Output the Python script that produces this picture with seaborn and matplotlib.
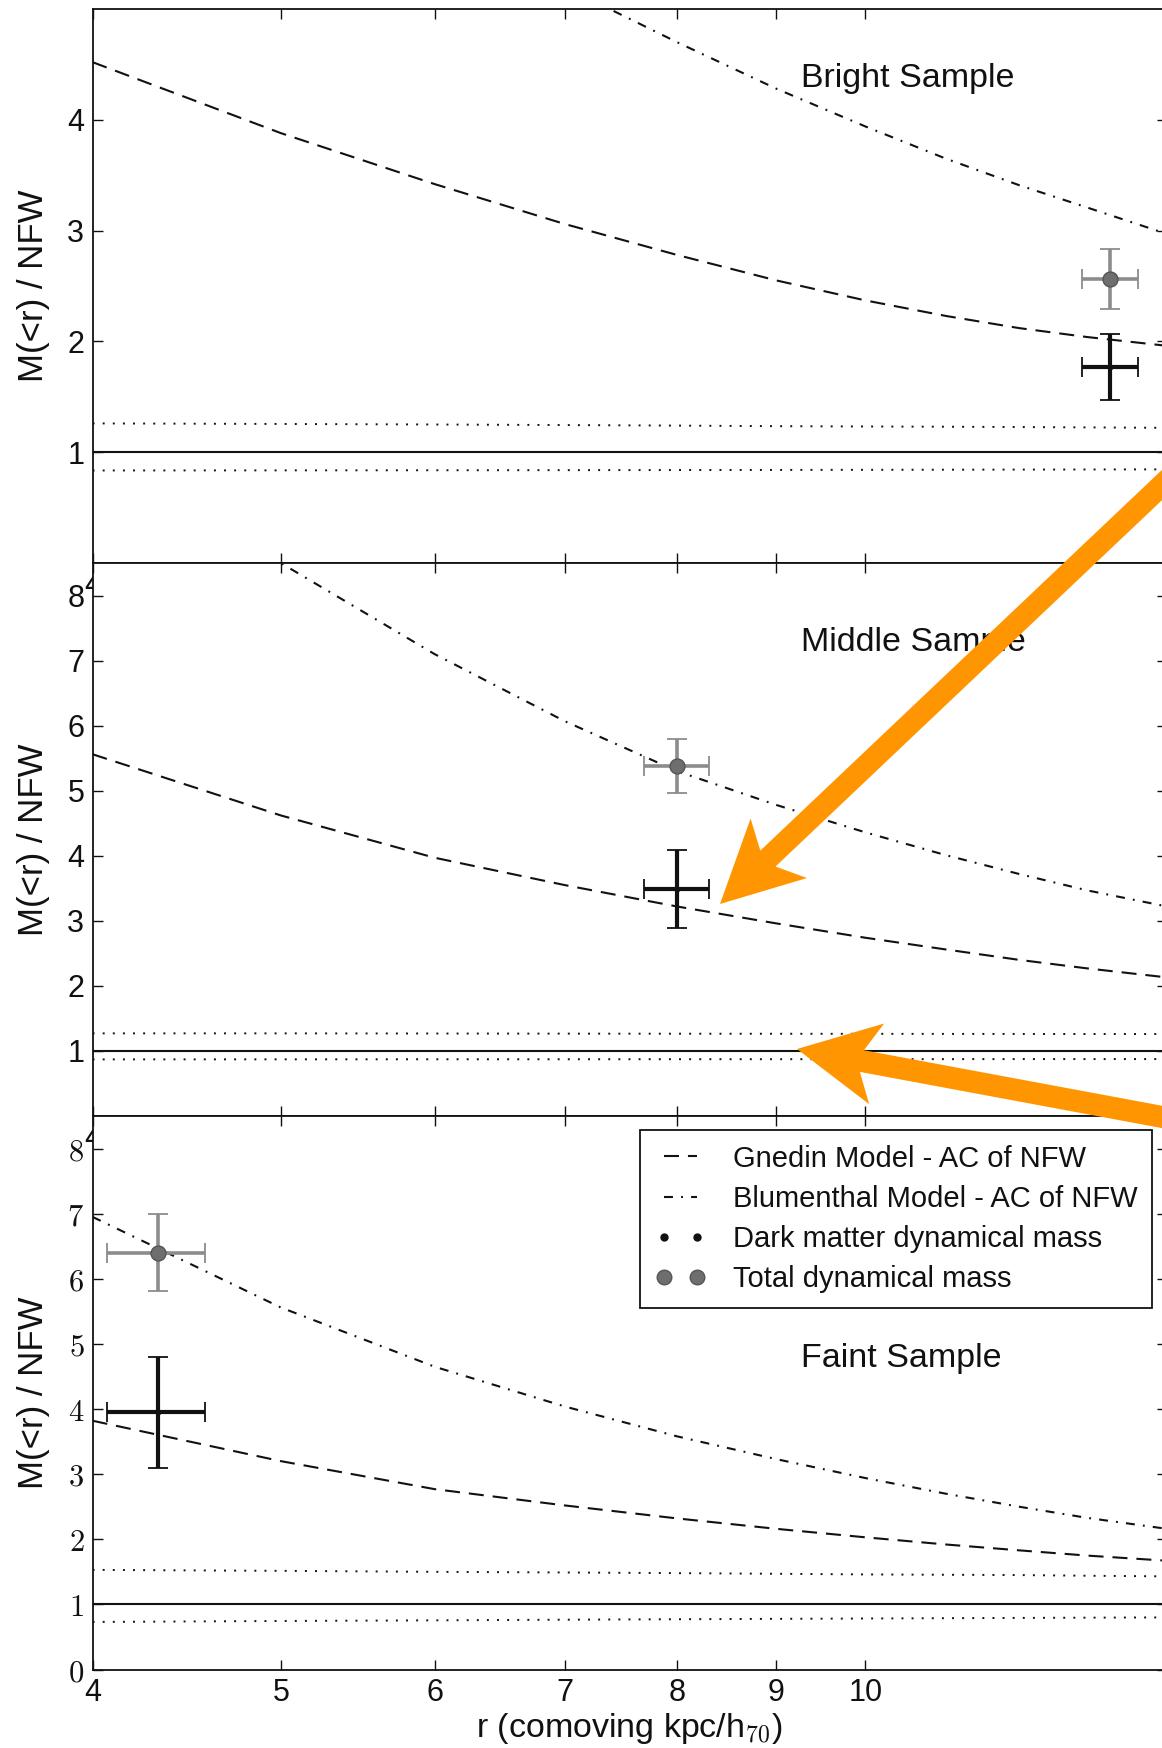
import numpy as np
import matplotlib
matplotlib.use("Agg")
import matplotlib.pyplot as plt
import seaborn as sns
from matplotlib.lines import Line2D
from matplotlib.patches import Polygon
from matplotlib.ticker import FixedLocator, FixedFormatter, NullLocator

# ---------------------------------------------------------------------------
# Data: M(<r)/NFW against comoving radius (kpc/h70)
# ---------------------------------------------------------------------------
r_grid = [4.0, 5.0, 6.0, 7.0, 8.0, 9.0, 10.0, 11.0, 12.0, 13.0, 14.3]

# Bright sample
bright_gnedin = [4.52, 3.88, 3.42, 3.06, 2.78, 2.55, 2.37, 2.23, 2.12, 2.04, 1.96]
bright_blumenthal = [8.10, 6.80, 5.90, 5.20, 4.70, 4.28, 3.94, 3.65, 3.41, 3.21, 2.97]
bright_nfw_hi = [1.26, 1.255, 1.25, 1.245, 1.24, 1.235, 1.232, 1.23, 1.227, 1.224, 1.22]
bright_nfw_lo = [0.835, 0.836, 0.837, 0.838, 0.839, 0.840, 0.841, 0.842, 0.843, 0.844, 0.845]
bright_r, bright_rerr = 13.37, 0.44
bright_total, bright_total_err = 2.56, 0.27
bright_dm, bright_dm_err = 1.77, 0.30

# Middle sample
middle_gnedin = [5.56, 4.62, 3.97, 3.55, 3.22, 2.96, 2.74, 2.56, 2.40, 2.27, 2.13]
middle_blumenthal = [10.6, 8.50, 7.10, 6.07, 5.30, 4.78, 4.36, 4.01, 3.72, 3.47, 3.22]
middle_nfw_hi = [1.27, 1.27, 1.268, 1.266, 1.265, 1.264, 1.263, 1.262, 1.261, 1.26, 1.26]
middle_nfw_lo = [0.870, 0.871, 0.872, 0.872, 0.873, 0.873, 0.874, 0.874, 0.875, 0.875, 0.875]
middle_r, middle_rerr = 8.0, 0.31
middle_total, middle_total_err = 5.38, 0.42
middle_dm, middle_dm_err = 3.49, 0.60

# Faint sample
faint_gnedin = [3.82, 3.20, 2.77, 2.52, 2.32, 2.16, 2.03, 1.92, 1.83, 1.75, 1.67]
faint_blumenthal = [6.95, 5.56, 4.65, 4.04, 3.58, 3.23, 2.94, 2.70, 2.50, 2.33, 2.16]
faint_nfw_hi = [1.53, 1.515, 1.50, 1.49, 1.48, 1.47, 1.46, 1.455, 1.45, 1.44, 1.43]
faint_nfw_lo = [0.73, 0.745, 0.755, 0.765, 0.772, 0.778, 0.783, 0.788, 0.792, 0.796, 0.80]
faint_r, faint_rerr = 4.32, 0.25
faint_total, faint_total_err = 6.40, 0.59
faint_dm, faint_dm_err = 3.95, 0.85

x_ticks = [4, 5, 6, 7, 8, 9, 10]
x_ticklabels = ["4", "5", "6", "7", "8", "9", "10"]
# upper panels: only the first label pokes out from under the panel below
x_ticklabels_hidden = ["4", "", "", "", "", "", ""]

legend_labels = ["Gnedin Model - AC of NFW", "Blumenthal Model - AC of NFW",
                 "Dark matter dynamical mass", "Total dynamical mass"]

# ---------------------------------------------------------------------------
# Style
# ---------------------------------------------------------------------------
sns.set_theme(style="ticks")
plt.rcParams.update({
    "font.family": ["Liberation Sans", "DejaVu Sans"],
    "mathtext.fontset": "cm",
    "axes.edgecolor": "#111111",
    "axes.labelcolor": "#111111",
    "text.color": "#111111",
    "xtick.color": "#111111",
    "ytick.color": "#111111",
    "axes.linewidth": 1.3,
    "xtick.direction": "in",
    "ytick.direction": "in",
    "xtick.major.size": 7.2,
    "ytick.major.size": 7.2,
    "xtick.major.width": 1.0,
    "ytick.major.width": 1.0,
    "xtick.minor.size": 0,
    "ytick.minor.size": 0,
})

W, H = 1162, 1748
DPI = 100
fig = plt.figure(figsize=(W / DPI, H / DPI), dpi=DPI, facecolor="white")

LS_GNEDIN = (0, (7.2, 4.3))
LS_BLUM = (0, (4.3, 3.9, 0.9, 3.9))
LS_DOT = (0, (1.0, 4.2))
GREY_FACE = "#6e6e6e"
GREY_EDGE = "#555555"
GREY_BAR = "#8c8c8c"

X_MIN, X_MAX = 4.0, 14.3
left = 92.6 / W
width = (1167.0 - 92.6) / W
panel_edges = [9.0, 563.0, 1116.0, 1669.5]   # top edges, pixels from top


def panel_axes(i):
    top, bot = panel_edges[i], panel_edges[i + 1]
    return fig.add_axes([left, 1 - bot / H, width, (bot - top) / H])


def draw_panel(ax, gnedin, blum, nfw_hi, nfw_lo, r_pt, r_err, tot, tot_err,
               dm, dm_err, ymax, yticks, yticklabels, xlabels, title, title_y):
    ax.set_facecolor("white")
    ax.set_xscale("log")

    ax.axhline(1.0, color="#111111", lw=1.5, zorder=2)
    for vals in (nfw_hi, nfw_lo):
        sns.lineplot(x=r_grid, y=vals, ax=ax, color="#111111", lw=1.4,
                     linestyle=LS_DOT, errorbar=None, sort=False, zorder=2)
    sns.lineplot(x=r_grid, y=gnedin, ax=ax, color="#111111", lw=1.5,
                 linestyle=LS_GNEDIN, errorbar=None, sort=False, zorder=3)
    sns.lineplot(x=r_grid, y=blum, ax=ax, color="#111111", lw=1.5,
                 linestyle=LS_BLUM, errorbar=None, sort=False, zorder=3)

    # total dynamical mass (grey) and dark matter dynamical mass (black)
    ax.errorbar([r_pt], [tot], xerr=[r_err], yerr=[tot_err], fmt="none",
                ecolor=GREY_BAR, elinewidth=2.6, capsize=7.5, capthick=1.3,
                zorder=4)
    sns.scatterplot(x=[r_pt], y=[tot], ax=ax, s=115, color=GREY_FACE,
                    edgecolor=GREY_EDGE, linewidth=1.0, zorder=5)
    ax.errorbar([r_pt], [dm], xerr=[r_err], yerr=[dm_err], fmt="none",
                ecolor="#111111", elinewidth=3.0, capsize=7.5, capthick=1.3,
                zorder=4)
    sns.scatterplot(x=[r_pt], y=[dm], ax=ax, s=18, color="#111111",
                    edgecolor="#111111", linewidth=0, zorder=5)

    ax.set_xlim(X_MIN, X_MAX)
    ax.set_ylim(0, ymax)
    ax.xaxis.set_major_locator(FixedLocator(x_ticks))
    ax.xaxis.set_major_formatter(FixedFormatter(xlabels))
    ax.xaxis.set_minor_locator(NullLocator())
    ax.yaxis.set_major_locator(FixedLocator(yticks))
    ax.yaxis.set_major_formatter(FixedFormatter(yticklabels))
    ax.yaxis.set_minor_locator(NullLocator())
    ax.tick_params(axis="both", which="both", top=True, right=True,
                   labelsize=22)
    ax.tick_params(axis="x", pad=6)
    ax.tick_params(axis="y", pad=6)

    ax.set_ylabel("M(<r) / NFW", fontsize=25)
    ax.yaxis.set_label_coords(-0.040, 0.5)
    ax.set_xlabel("")
    ax.text(9.27, title_y, title, fontsize=24.5, ha="left", va="center",
            zorder=6)


ax_b = panel_axes(0)
draw_panel(ax_b, bright_gnedin, bright_blumenthal, bright_nfw_hi, bright_nfw_lo,
           bright_r, bright_rerr, bright_total, bright_total_err,
           bright_dm, bright_dm_err, 5.0, [1, 2, 3, 4],
           ["1", "2", "3", "4"], x_ticklabels_hidden, "Bright Sample", 4.37)

ax_m = panel_axes(1)
draw_panel(ax_m, middle_gnedin, middle_blumenthal, middle_nfw_hi, middle_nfw_lo,
           middle_r, middle_rerr, middle_total, middle_total_err,
           middle_dm, middle_dm_err, 8.5, [1, 2, 3, 4, 5, 6, 7, 8],
           [str(v) for v in range(1, 9)], x_ticklabels_hidden,
           "Middle Sample", 7.28)

ax_f = panel_axes(2)
draw_panel(ax_f, faint_gnedin, faint_blumenthal, faint_nfw_hi, faint_nfw_lo,
           faint_r, faint_rerr, faint_total, faint_total_err,
           faint_dm, faint_dm_err, 8.5, list(range(0, 9)),
           ["$%d$" % v for v in range(0, 9)], x_ticklabels,
           "Faint Sample", 4.78)
ax_f.set_xlabel("r (comoving kpc/h$_{70}$)", fontsize=24.5, labelpad=2)

handles = [
    Line2D([], [], color="#111111", lw=1.5, linestyle=LS_GNEDIN),
    Line2D([], [], color="#111111", lw=1.5, linestyle=LS_BLUM),
    Line2D([], [], color="#111111", marker="o", ms=5.0, linestyle="none"),
    Line2D([], [], marker="o", ms=10.5, mfc=GREY_FACE, mec=GREY_EDGE,
           linestyle="none"),
]
leg = ax_f.legend(handles, legend_labels, loc="upper right",
                  bbox_to_anchor=(1152 / W, 1 - 1130 / H),
                  bbox_transform=fig.transFigure, borderaxespad=0,
                  fontsize=21, numpoints=2, handlelength=1.75,
                  handletextpad=0.92, borderpad=0.5, labelspacing=0.42,
                  fancybox=False, framealpha=1.0, edgecolor="#111111")
leg.get_frame().set_linewidth(1.3)
leg.set_zorder(7)


# Orange call-out arrows (pixel geometry, origin at the top-left corner)
def arrow_outline(tip, tail, shaft_w=22.0, head_len=81.0, head_w=82.0,
                  neck=66.0):
    tip = np.asarray(tip, float)
    tail = np.asarray(tail, float)
    u = (tip - tail) / np.linalg.norm(tip - tail)
    v = np.array([-u[1], u[0]])
    neck_pt = tip - neck * u
    base = tip - head_len * u
    pts = [tail + v * shaft_w / 2, neck_pt + v * shaft_w / 2,
           base + v * head_w / 2, tip, base - v * head_w / 2,
           neck_pt - v * shaft_w / 2, tail - v * shaft_w / 2]
    return [(x / W, 1 - y / H) for x, y in pts]


ORANGE = "#FF9500"
for tip, tail in [((720, 904), (1200, 449)), ((797, 1049), (1200, 1124))]:
    fig.add_artist(Polygon(arrow_outline(tip, tail), closed=True,
                           facecolor=ORANGE, edgecolor="none",
                           transform=fig.transFigure, zorder=20))

fig.savefig("out.png", dpi=DPI, facecolor="white")
